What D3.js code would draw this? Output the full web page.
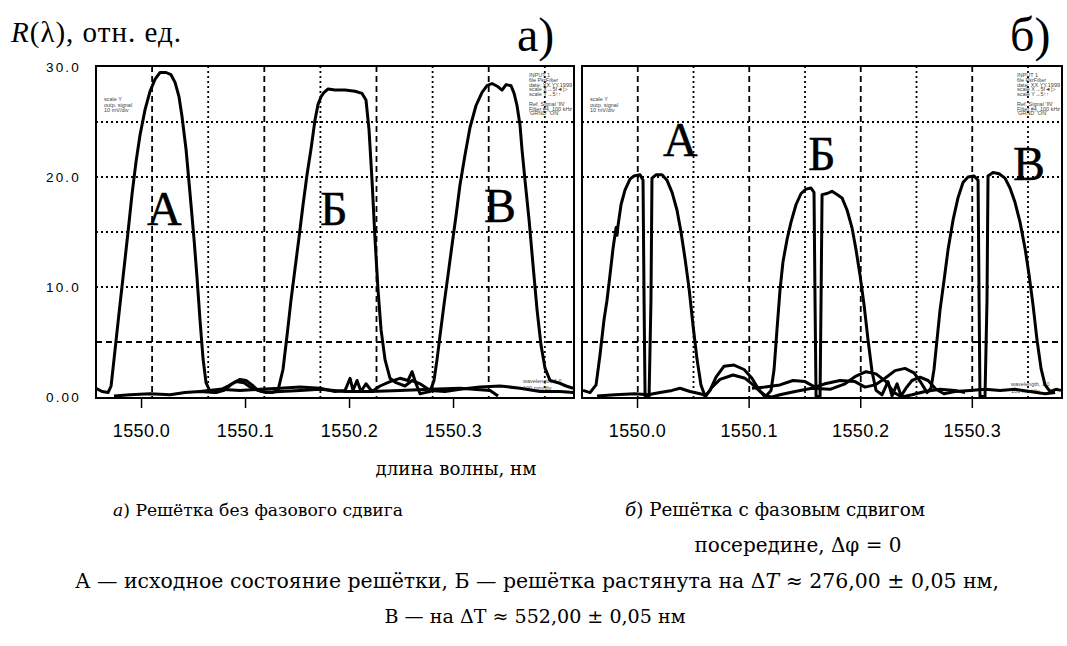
<!DOCTYPE html>
<html>
<head>
<meta charset="utf-8">
<script src="https://cdn.jsdelivr.net/npm/d3@7/dist/d3.min.js"></script>
<style>
  body { margin: 0; background: #fff; }
  svg { display: block; }
  .tick text { font-family: "Liberation Sans", Arial, sans-serif; }
</style>
</head>
<body>
<svg id="chart" width="1067" height="646"></svg>
<script>
"use strict"

// ---- data: [wavelength, nm ; R, rel. units] ----

// panel a) grating without phase shift
const aA = [[1549.9567,0.8],[1549.9625,0.5],[1549.9683,0.4],[1549.9712,1.0],[1549.9740,3.4],[1549.9779,6.8],[1549.9827,10.9],[1549.9875,15.0],[1549.9913,18.4],[1549.9952,21.4],[1549.9990,23.8],[1550.0038,26.1],[1550.0087,27.8],[1550.0135,28.9],[1550.0183,29.5],[1550.0240,29.5],[1550.0288,29.3],[1550.0327,28.6],[1550.0365,27.3],[1550.0394,25.5],[1550.0433,22.5],[1550.0471,18.5],[1550.0510,14.3],[1550.0538,10.9],[1550.0567,7.0],[1550.0596,3.5],[1550.0625,1.3],[1550.0663,0.5],[1550.0721,0.4],[1550.0798,0.6],[1550.0875,1.2],[1550.0952,1.6],[1550.1010,1.5],[1550.1067,1.1],[1550.1125,0.6],[1550.1202,0.4],[1550.1337,0.5],[1550.1529,0.6],[1550.1721,0.7],[1550.1962,0.5],[1550.2202,0.5],[1550.2490,0.6],[1550.2779,0.7],[1550.3067,0.8],[1550.3356,0.6],[1550.3433,0.1]]

const aB = [[1549.9740,0.1],[1549.9894,0.2],[1550.0087,0.3],[1550.0279,0.2],[1550.0423,0.4],[1550.0567,0.5],[1550.0712,0.4],[1550.0837,1.0],[1550.0913,1.4],[1550.0990,1.3],[1550.1067,0.8],[1550.1163,0.5],[1550.1260,0.4],[1550.1317,0.6],[1550.1365,2.5],[1550.1404,5.6],[1550.1442,8.8],[1550.1481,11.7],[1550.1519,14.5],[1550.1558,17.5],[1550.1596,20.2],[1550.1635,22.6],[1550.1673,25.2],[1550.1702,26.6],[1550.1731,27.3],[1550.1760,27.7],[1550.1798,28.0],[1550.1865,27.9],[1550.1962,27.9],[1550.2058,27.8],[1550.2125,27.6],[1550.2163,27.0],[1550.2192,24.3],[1550.2221,19.7],[1550.2250,14.3],[1550.2279,9.7],[1550.2308,6.1],[1550.2346,3.4],[1550.2394,1.7],[1550.2452,1.3],[1550.2538,1.0],[1550.2606,1.5],[1550.2683,1.2],[1550.2779,0.6],[1550.2923,0.5],[1550.3067,0.7],[1550.3260,0.9],[1550.3452,1.0],[1550.3644,0.8],[1550.3837,0.5],[1550.4029,0.5],[1550.4154,0.4]]

const aV = [[1550.0567,0.5],[1550.0760,0.7],[1550.0952,0.6],[1550.1144,0.7],[1550.1337,0.8],[1550.1529,0.9],[1550.1721,0.8],[1550.1865,0.5],[1550.1962,0.6],[1550.2010,1.7],[1550.2038,0.6],[1550.2077,1.5],[1550.2115,0.5],[1550.2163,1.2],[1550.2221,0.5],[1550.2298,1.0],[1550.2394,1.4],[1550.2490,1.7],[1550.2567,1.5],[1550.2606,2.3],[1550.2644,1.2],[1550.2683,0.3],[1550.2731,0.4],[1550.2779,0.5],[1550.2817,1.5],[1550.2846,3.4],[1550.2875,5.6],[1550.2913,8.4],[1550.2952,11.1],[1550.2990,13.8],[1550.3029,16.5],[1550.3067,19.3],[1550.3115,22.0],[1550.3163,24.5],[1550.3221,26.5],[1550.3279,27.7],[1550.3327,28.3],[1550.3375,28.5],[1550.3433,28.2],[1550.3471,27.9],[1550.3510,28.4],[1550.3558,28.3],[1550.3587,27.6],[1550.3615,26.5],[1550.3644,24.7],[1550.3663,22.5],[1550.3692,19.7],[1550.3731,16.1],[1550.3769,12.0],[1550.3808,7.9],[1550.3846,4.7],[1550.3885,2.6],[1550.3933,1.5],[1550.4010,1.3],[1550.4087,1.0],[1550.4154,0.8]]

// panel б) grating with a phase shift in the middle
const bA = [[1549.9516,0.6],[1549.9579,0.4],[1549.9633,1.1],[1549.9668,3.8],[1549.9704,7.0],[1549.9731,8.8],[1549.9758,11.1],[1549.9785,13.5],[1549.9812,15.4],[1549.9821,14.7],[1549.9830,15.6],[1549.9857,17.5],[1549.9892,18.8],[1549.9937,19.8],[1549.9973,20.1],[1550.0027,20.2],[1550.0054,19.7],[1550.0063,8.8],[1550.0072,0.1],[1550.0108,0.0],[1550.0125,8.8],[1550.0134,19.9],[1550.0170,20.2],[1550.0224,20.2],[1550.0269,19.7],[1550.0314,18.6],[1550.0358,17.0],[1550.0394,15.0],[1550.0430,12.6],[1550.0466,9.9],[1550.0502,6.5],[1550.0538,3.4],[1550.0573,1.1],[1550.0609,0.1],[1550.0654,0.6],[1550.0708,1.8],[1550.0780,2.8],[1550.0869,2.9],[1550.0959,2.5],[1550.1030,1.7],[1550.1084,0.8],[1550.1138,0.1],[1550.1210,0.0],[1550.1281,0.2],[1550.1416,0.5],[1550.1568,0.8],[1550.1729,0.7],[1550.1864,1.2],[1550.1962,1.9],[1550.2052,2.3],[1550.2142,2.1],[1550.2231,1.4],[1550.2303,0.4],[1550.2375,0.0],[1550.2464,0.2],[1550.2581,0.5],[1550.2715,0.7],[1550.2849,0.6],[1550.2939,0.4]]

const bB = [[1549.9642,0.1],[1549.9803,0.2],[1549.9982,0.3],[1550.0099,0.2],[1550.0206,0.4],[1550.0314,0.6],[1550.0385,0.8],[1550.0475,0.5],[1550.0565,0.3],[1550.0618,0.1],[1550.0672,0.9],[1550.0744,1.6],[1550.0860,2.0],[1550.0968,1.7],[1550.1030,1.2],[1550.1102,0.5],[1550.1156,0.1],[1550.1201,0.6],[1550.1228,2.5],[1550.1254,6.1],[1550.1281,9.7],[1550.1308,12.3],[1550.1344,14.3],[1550.1380,15.9],[1550.1425,17.5],[1550.1470,18.5],[1550.1514,18.9],[1550.1559,19.0],[1550.1586,18.6],[1550.1595,8.8],[1550.1604,0.1],[1550.1640,0.0],[1550.1649,8.8],[1550.1658,18.4],[1550.1703,18.5],[1550.1747,18.7],[1550.1792,18.4],[1550.1837,18.1],[1550.1882,17.0],[1550.1926,15.4],[1550.1962,13.4],[1550.1998,11.1],[1550.2034,8.4],[1550.2070,5.2],[1550.2106,2.3],[1550.2142,0.6],[1550.2195,0.2],[1550.2249,1.4],[1550.2285,0.1],[1550.2330,1.2],[1550.2366,0.1],[1550.2410,0.8],[1550.2464,1.5],[1550.2536,1.8],[1550.2608,1.5],[1550.2679,0.7],[1550.2751,0.3],[1550.2849,0.5],[1550.2984,0.6],[1550.3118,0.7],[1550.3253,0.6],[1550.3387,0.7],[1550.3522,0.5],[1550.3656,0.3],[1550.3746,0.4]]

const bV = [[1550.1030,0.8],[1550.1147,0.9],[1550.1281,1.1],[1550.1398,1.5],[1550.1505,1.4],[1550.1595,0.9],[1550.1685,1.2],[1550.1819,1.5],[1550.1953,1.4],[1550.2043,0.9],[1550.2133,1.1],[1550.2222,1.7],[1550.2312,2.4],[1550.2401,2.6],[1550.2482,2.2],[1550.2545,1.3],[1550.2599,0.4],[1550.2634,0.8],[1550.2661,2.5],[1550.2688,5.2],[1550.2715,7.9],[1550.2751,10.6],[1550.2787,13.4],[1550.2832,16.1],[1550.2876,18.1],[1550.2921,19.5],[1550.2966,20.0],[1550.3020,20.1],[1550.3056,19.7],[1550.3065,8.8],[1550.3073,0.1],[1550.3118,0.0],[1550.3136,8.8],[1550.3145,20.1],[1550.3190,20.4],[1550.3244,20.3],[1550.3297,19.9],[1550.3342,19.0],[1550.3387,17.7],[1550.3432,15.9],[1550.3477,13.5],[1550.3513,11.1],[1550.3548,8.4],[1550.3584,5.2],[1550.3620,2.6],[1550.3656,1.1],[1550.3701,0.5],[1550.3754,0.7],[1550.3799,0.6]]

const xTicks = [1550.0, 1550.1, 1550.2, 1550.3]
const yTicks = [30, 20, 10, 0]
const yTickLabels = ["30.0", "20.0", "10.0", "0.00"]
const gridRows = [5, 10, 15, 20, 25]       // R values of horizontal grid
const gridDivs = [1, 2, 3, 4, 5, 6, 7, 8]  // scope screen divisions

const peakLabelsA = [["А", 1550.0058, 15.6], ["Б", 1550.1721, 15.6], ["В", 1550.3298, 15.9]]
const peakLabelsB = [["А", 1550.0233, 21.9], ["Б", 1550.1532, 20.6], ["В", 1550.3369, 19.7]]

const infoLeft  = ["scale Y", "outp. signal", "10 mV/div"]
const infoRight = ["INPUT 1", "file PkrFilter", "date: XX.YY.1999", "scale X→5f◄▷", "scale Y→5↑↑", "", "Ref. Signal 'IN'", "Filter #4, 100 kHz", "'GRND' 'ON'"]
const infoBottom = ["wavelength, 1.0", "100 mm/div"]

// ---- layout ----
const svg = d3.select("#chart")
svg.append("rect").attr("width", 1067).attr("height", 646).attr("fill", "#fff")

const y = d3.scaleLinear().domain([0, 30]).range([397, 67])
const frameTop = 66, frameBottom = 398
const serif = "'Liberation Serif', 'Times New Roman', serif"
const capFont = "'DejaVu Serif', serif"

const panels = [
    { id: "a", x0: 96,  x1: 574,  divW: 561,   dom: [1549.9567, 1550.4163], traces: [aA, aB, aV], labels: peakLabelsA, tag: "а)", tagX: 517 },
    { id: "b", x0: 582, x1: 1062, divW: 557.5, dom: [1549.9507, 1550.3808], traces: [bA, bB, bV], labels: peakLabelsB, tag: "б)", tagX: 1010 },
]

const defs = svg.append("defs")

panels.forEach(p => {
    const x = d3.scaleLinear().domain(p.dom).range([p.x0, p.x1])
    const div = d3.scaleLinear().domain([0, 10]).range([p.x0, p.x0 + p.divW])
    const g = svg.append("g").attr("class", "panel-" + p.id)

    defs.append("clipPath").attr("id", "clip-" + p.id)
        .append("rect").attr("x", p.x0).attr("y", frameTop)
        .attr("width", p.x1 - p.x0).attr("height", frameBottom - frameTop)

    // grid
    const grid = g.append("g").attr("stroke", "#000").attr("stroke-width", 1.8)
    grid.selectAll("line.v").data(gridDivs.filter(k => div(k) < p.x1 - 5)).enter().append("line")
        .attr("x1", k => div(k)).attr("x2", k => div(k))
        .attr("y1", frameTop).attr("y2", frameBottom)
        .attr("stroke-dasharray", k => k % 2 ? "6,4" : "2,3")
    grid.selectAll("line.h").data(gridRows).enter().append("line")
        .attr("x1", p.x0).attr("x2", p.x1)
        .attr("y1", d => y(d)).attr("y2", d => y(d))
        .attr("stroke-dasharray", d => d == 5 ? "6,4" : "2,3")

    // scope annotations
    const info = g.append("g").attr("fill", "#444")
        .style("font-family", "'Liberation Sans', Arial, sans-serif").style("font-size", "5.5px")
    info.selectAll("text.l").data(infoLeft).enter().append("text")
        .attr("x", p.x0 + 8).attr("y", (d, i) => 101 + i * 5.5).text(d => d)
    info.selectAll("text.r").data(infoRight).enter().append("text")
        .attr("x", p.x1 - 45).attr("y", (d, i) => 77 + i * 4.8).text(d => d)
    info.selectAll("text.b").data(infoBottom).enter().append("text")
        .attr("x", p.x1 - 51).attr("y", (d, i) => (p.id == "a" ? 383 : 386) + i * 6.5).text(d => d)

    // traces
    const line = d3.line().x(d => x(d[0])).y(d => y(d[1]))
    g.append("g").attr("clip-path", `url(#clip-${p.id})`)
        .selectAll("path").data(p.traces).enter().append("path")
        .attr("d", line).attr("fill", "none").attr("stroke", "#000")
        .attr("stroke-width", 3).attr("stroke-linejoin", "round")

    // frame
    g.append("rect").attr("x", p.x0).attr("y", frameTop)
        .attr("width", p.x1 - p.x0).attr("height", frameBottom - frameTop)
        .attr("fill", "none").attr("stroke", "#000").attr("stroke-width", 2)

    // peak letters
    g.selectAll("text.peak").data(p.labels).enter().append("text")
        .attr("x", d => x(d[1])).attr("y", d => y(d[2])).text(d => d[0])
        .style("font-family", serif).style("font-size", "48px")
        .attr("stroke", "#000").attr("stroke-width", 0.4)

    // x axis
    const ax = g.append("g").attr("transform", `translate(0,${frameBottom})`)
        .call(d3.axisBottom(x).tickValues(xTicks).tickFormat(d3.format(".1f")).tickSize(10))
    ax.select(".domain").remove()
    ax.selectAll("line").attr("stroke-width", 1.5)
    ax.selectAll("text").attr("y", 39).attr("dy", 0)
        .style("font-size", "18px").style("letter-spacing", "0.4px")

    // panel tag
    svg.append("text").attr("x", p.tagX).attr("y", 51).text(p.tag)
        .style("font-family", serif).style("font-size", "48px")
})

// y tick labels (left panel only)
svg.append("g").selectAll("text").data(yTicks).enter().append("text")
    .attr("x", 81).attr("y", d => y(d) + 5).attr("text-anchor", "end")
    .text((d, i) => yTickLabels[i])
    .style("font-family", "'Liberation Sans', Arial, sans-serif").style("font-size", "13.5px")
    .style("letter-spacing", "2.2px")

// y title
const yt = svg.append("text").attr("x", 11).attr("y", 42)
    .style("font-family", serif).style("font-size", "29px").style("letter-spacing", "1px")
yt.append("tspan").style("font-style", "italic").text("R")
yt.append("tspan").text("(λ), отн. ед.")

// captions: scale the font so that each line spans the width it has in the picture
function fit(sel, width) {
    const w = sel.node().getComputedTextLength()
    const fs = parseFloat(sel.style("font-size"))
    sel.style("font-size", (fs * width / w).toFixed(2) + "px")
    return sel
}

const cap = svg.append("g").style("font-family", capFont).attr("text-anchor", "middle")
fit(cap.append("text").attr("x", 456).attr("y", 475).style("font-size", "20px").text("длина волны, нм"), 161)

const capA = cap.append("text").attr("x", 258).attr("y", 516).style("font-size", "18px")
capA.append("tspan").style("font-style", "italic").text("а")
capA.append("tspan").text(") Решётка без фазового сдвига")
fit(capA, 290)

const capB = cap.append("text").attr("x", 775).attr("y", 516).style("font-size", "18px")
capB.append("tspan").style("font-style", "italic").text("б")
capB.append("tspan").text(") Решётка с фазовым сдвигом")
fit(capB, 300)

fit(cap.append("text").attr("x", 798).attr("y", 552).style("font-size", "18px").text("посередине, Δφ = 0"), 207)

const cap4 = cap.append("text").attr("x", 537).attr("y", 588).style("font-size", "18px")
cap4.append("tspan").text("А — исходное состояние решётки, Б — решётка растянута на Δ")
cap4.append("tspan").style("font-style", "italic").text("T")
cap4.append("tspan").text(" ≈ 276,00 ± 0,05 нм,")
fit(cap4, 925)

fit(cap.append("text").attr("x", 535).attr("y", 623).style("font-size", "18px").text("В — на ΔT ≈ 552,00 ± 0,05 нм"), 301)
</script>
</body>
</html>
